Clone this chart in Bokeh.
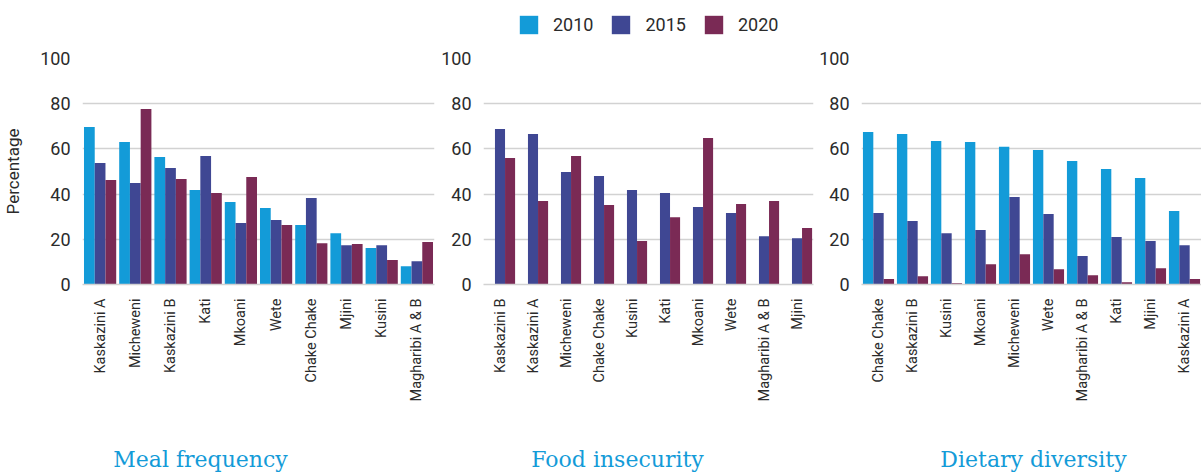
from bokeh.plotting import figure
from bokeh.layouts import row, column
from bokeh.models import (FactorRange, Range1d, Legend, LegendItem, Label,
                          ColumnDataSource, FixedTicker)
from bokeh.transform import dodge
from bokeh.embed import file_html
from bokeh.resources import INLINE
import math

years = ["2010", "2015", "2020"]
colors = ["#139bd8", "#3f4793", "#7a2a55"]

# Meal frequency
mf_regions = ["Kaskazini A", "Micheweni", "Kaskazini B", "Kati", "Mkoani", "Wete",
              "Chake Chake", "Mjini", "Kusini", "Magharibi A & B"]
mf_2010 = [69.7, 63.1, 56.4, 41.8, 36.5, 33.8, 26.3, 22.7, 16.1, 8.1]
mf_2015 = [53.8, 44.9, 51.6, 56.9, 27.2, 28.5, 38.3, 17.4, 17.4, 10.3]
mf_2020 = [46.2, 77.7, 46.7, 40.5, 47.6, 26.3, 18.3, 17.9, 10.8, 18.8]

# Food insecurity (no 2010 data)
fi_regions = ["Kaskazini B", "Kaskazini A", "Micheweni", "Chake Chake", "Kusini", "Kati",
              "Mkoani", "Wete", "Magharibi A & B", "Mjini"]
fi_2015 = [68.8, 66.6, 49.8, 48.0, 41.8, 40.5, 34.3, 31.6, 21.4, 20.5]
fi_2020 = [56.0, 36.9, 56.9, 35.2, 19.2, 29.8, 64.8, 35.6, 36.9, 25.0]

# Dietary diversity
dd_regions = ["Chake Chake", "Kaskazini B", "Kusini", "Mkoani", "Micheweni", "Wete",
              "Magharibi A & B", "Kati", "Mjini", "Kaskazini A"]
dd_2010 = [67.5, 66.6, 63.5, 63.1, 60.9, 59.5, 54.7, 51.1, 47.1, 32.5]
dd_2015 = [31.6, 28.1, 22.7, 24.1, 38.7, 31.2, 12.6, 21.0, 19.2, 17.4]
dd_2020 = [2.4, 3.7, 0.6, 9.0, 13.4, 6.8, 4.1, 1.0, 7.2, 2.4]

titles = ["Meal frequency", "Food insecurity", "Dietary diversity"]
y_ticks = [0, 20, 40, 60, 80, 100]

BW = 0.305
offsets = [-BW, 0.0, BW]
FONT = "Roboto"
TXT = "#2b2b2b"
TOTAL_W = 1200


def make_panel(regions, series, frame_w, left, right, ylabel=None):
    p = figure(x_range=FactorRange(*regions), y_range=Range1d(0, 100),
               frame_width=frame_w, frame_height=226,
               min_border_left=left, min_border_right=right,
               min_border_top=18, min_border_bottom=148,
               output_backend="svg", toolbar_location=None)
    data = {"region": regions}
    for yr, vals in series.items():
        data[yr] = vals
    src = ColumnDataSource(data)
    for i, yr in enumerate(years):
        if yr in series:
            p.vbar(x=dodge("region", offsets[i], range=p.x_range), top=yr, bottom=0,
                   width=BW, source=src, fill_color=colors[i], line_color=None)
    p.outline_line_color = None
    p.background_fill_color = "white"
    p.xgrid.grid_line_color = None
    p.ygrid.grid_line_color = "#d2d2d2"
    p.ygrid.grid_line_width = 1.5
    for ax in (p.xaxis, p.yaxis):
        ax.major_tick_out = 0
        ax.major_tick_in = 0
        ax.minor_tick_out = 0
        ax.minor_tick_in = 0
        ax.major_tick_line_color = None
        ax.minor_tick_line_color = None
    p.yaxis.ticker = FixedTicker(ticks=y_ticks)
    p.yaxis.axis_line_color = None
    p.yaxis.major_label_standoff = 12
    p.yaxis.major_label_text_font = FONT
    p.yaxis.major_label_text_font_size = "18px"
    p.yaxis.major_label_text_color = TXT
    if ylabel:
        p.yaxis.axis_label = ylabel
        p.yaxis.axis_label_text_font = FONT
        p.yaxis.axis_label_text_font_style = "normal"
        p.yaxis.axis_label_text_font_size = "17px"
        p.yaxis.axis_label_text_color = TXT
        p.yaxis.axis_label_standoff = 14
    p.xaxis.axis_line_color = "#d2d2d2"
    p.xaxis.axis_line_width = 1.5
    p.xaxis.major_label_orientation = math.pi / 2
    p.xaxis.major_label_standoff = 14
    p.xaxis.major_label_text_font = FONT
    p.xaxis.major_label_text_font_size = "14.5px"
    p.xaxis.major_label_text_color = TXT
    return p


p1 = make_panel(mf_regions, {"2010": mf_2010, "2015": mf_2015, "2020": mf_2020},
                352, 81, 4, ylabel="Percentage")
p2 = make_panel(fi_regions, {"2015": fi_2015, "2020": fi_2020}, 330, 45, 3)
p3 = make_panel(dd_regions, {"2010": dd_2010, "2015": dd_2015, "2020": dd_2020},
                340, 45, 0)


def blank(height):
    f = figure(width=TOTAL_W, height=height, x_range=Range1d(0, 1), y_range=Range1d(0, 1),
               x_axis_type=None, y_axis_type=None, min_border=0,
               output_backend="svg", toolbar_location=None)
    f.outline_line_color = None
    f.grid.grid_line_color = None
    return f


# legend strip on top
lf = blank(40)
items = []
for i, yr in enumerate(years):
    ph = ColumnDataSource({"x": [-5], "top": [0]})
    r = lf.vbar(x="x", top="top", width=0.1, source=ph,
                fill_color=colors[i], line_color=None)
    items.append(LegendItem(label=yr, renderers=[r]))
legend = Legend(items=items, orientation="horizontal", location=(517, 4),
                glyph_width=23, glyph_height=23, label_standoff=13, spacing=16,
                label_text_font=FONT, label_text_font_size="18px",
                label_text_color=TXT, border_line_color=None,
                background_fill_alpha=0, padding=0, margin=0)
lf.add_layout(legend)

# panel titles strip at the bottom
tf = blank(42)
for txt, cx in zip(titles, [200, 617, 1033]):
    tf.add_layout(Label(x=cx, y=15, x_units="screen", y_units="screen", text=txt,
                        text_align="center", text_baseline="alphabetic",
                        text_font="DejaVu Serif", text_font_size="22px",
                        text_color="#139bd8"))

layout = column(lf, row(p1, p2, p3), tf)
open("out.html", "w").write(file_html(layout, INLINE))
